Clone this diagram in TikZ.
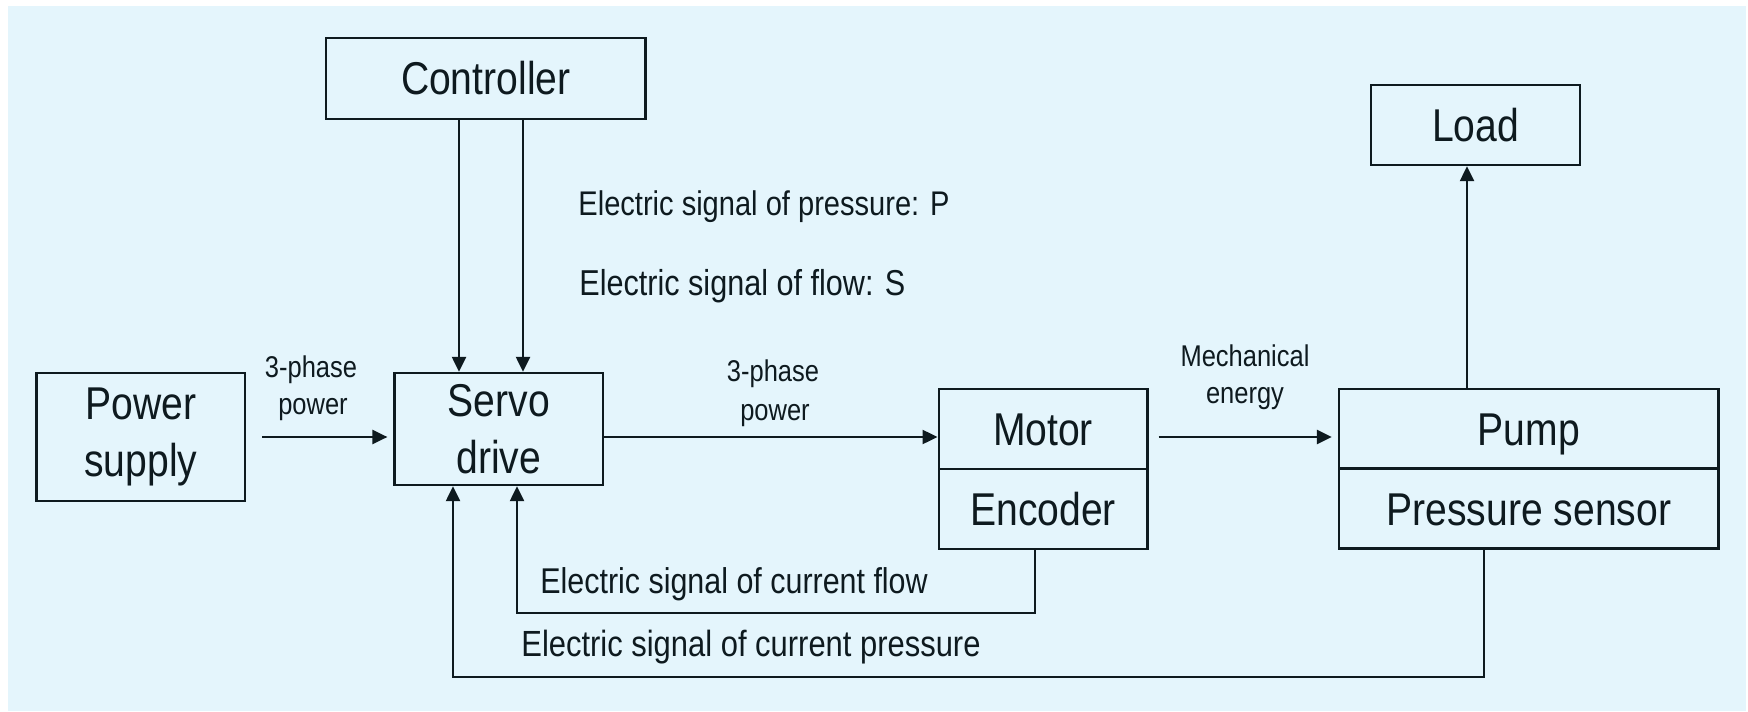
\documentclass[tikz,border=0pt]{standalone}
\usepackage{fontspec}
\setmainfont{Liberation Sans}[FakeStretch=0.85]
\usetikzlibrary{arrows.meta}
\definecolor{bg}{HTML}{E4F5FC}
\definecolor{ink}{HTML}{0E1A1F}
\begin{document}
\begin{tikzpicture}[x=0.5pt,y=-0.5pt,
  box/.style={draw=ink, line width=1.2pt, inner sep=0pt, align=center, text=ink,
    font=\fontsize{23pt}{28.5pt}\selectfont},
  onebox/.style={box, text height=16.5pt, text depth=0pt},
  arr/.style={draw=ink, line width=1.2pt, -{Triangle[length=7.5pt,width=7pt]}},
  siglbl/.style={inner sep=0pt, anchor=base west, text=ink},
  smalllbl/.style={inner sep=0pt, anchor=base, text=ink, font=\fontsize{15pt}{18pt}\selectfont}]
\useasboundingbox (0,0) rectangle (1748,711);
\fill[white] (0,0) rectangle (1748,711);
\fill[bg] (8,6) rectangle (1746,711);

% boxes
\node[onebox, minimum width=159.75pt, minimum height=40.5pt] (ctrl) at (485.75,78.5) {Controller};
\node[box, minimum width=104.2pt, minimum height=64pt] (ps) at (140.8,437) {Power\\supply};
\node[box, minimum width=104.2pt, minimum height=56pt] (servo) at (498.8,429) {Servo\\drive};
\node[onebox, minimum width=104.3pt, minimum height=40pt] (motor) at (1043,429) {Motor};
\node[onebox, minimum width=104.3pt, minimum height=40pt] (enc) at (1043,509) {Encoder};
\node[onebox, minimum width=189.8pt, minimum height=39.85pt] (pump) at (1528.8,428.85) {Pump};
\node[onebox, minimum width=189.8pt, minimum height=39.85pt] (psens) at (1528.8,508.5) {Pressure sensor};
\node[onebox, minimum width=104.5pt, minimum height=40pt] (load) at (1475.5,125) {Load};

% helper coordinates
\coordinate (ca) at (459,0);
\coordinate (cb) at (523,0);
\coordinate (fa) at (453,0);
\coordinate (fb) at (517,0);
\coordinate (lx) at (1467,0);
\coordinate (ex) at (1035,0);
\coordinate (px) at (1484,0);
\coordinate (ym) at (0,437);
\coordinate (ya) at (0,613);
\coordinate (yb) at (0,677);

% connectors
\draw[arr] (ctrl.south -| ca) -- (servo.north -| ca);
\draw[arr] (ctrl.south -| cb) -- (servo.north -| cb);
\draw[arr, shorten <=8pt, shorten >=3pt] (ps.east |- ym) -- (servo.west |- ym);
\draw[arr] (servo.east |- ym) -- (motor.west |- ym);
\draw[arr, shorten <=5pt, shorten >=3pt] (motor.east |- ym) -- (pump.west |- ym);
\draw[arr] (pump.north -| lx) -- (load.south -| lx);
\draw[arr] (enc.south -| ex) -- (ex |- ya) -- (fb |- ya) -- (servo.south -| fb);
\draw[arr] (psens.south -| px) -- (px |- yb) -- (fa |- yb) -- (servo.south -| fa);

% labels
\node[siglbl, font=\fontsize{17.1pt}{21pt}\selectfont] (l1) at (578,215) {Electric signal of pressure: P};
\node[siglbl, font=\fontsize{18pt}{21pt}\selectfont] (l2) at (579,295) {Electric signal of flow: S};
\node[siglbl, font=\fontsize{17.9pt}{21pt}\selectfont] (l3) at (540,593.3) {Electric signal of current flow};
\node[siglbl, font=\fontsize{18.2pt}{21pt}\selectfont] (l4) at (521,656.7) {Electric signal of current pressure};
\node[smalllbl] (p1a) at (311,377.3) {3-phase};
\node[smalllbl] (p1b) at (313,414) {power};
\node[smalllbl] (p2a) at (773,381.7) {3-phase};
\node[smalllbl] (p2b) at (775,420) {power};
\node[smalllbl] (m1) at (1245,366) {Mechanical};
\node[smalllbl] (m2) at (1245,403.6) {energy};
\end{tikzpicture}
\end{document}
